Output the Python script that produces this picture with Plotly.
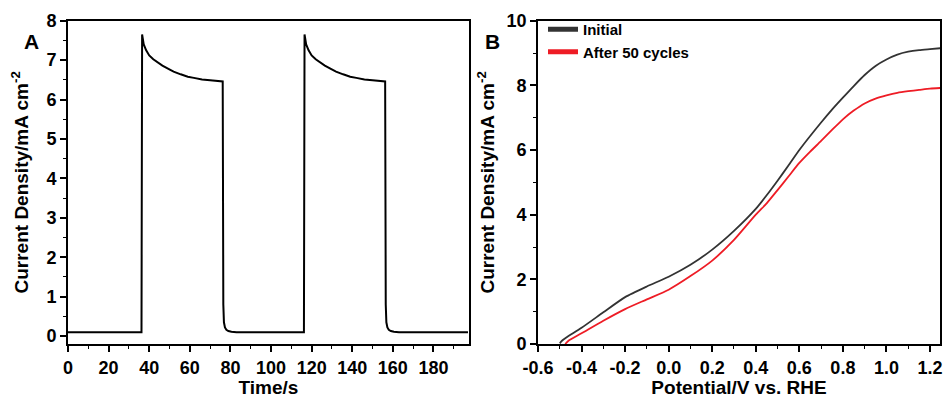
import plotly.graph_objects as go
from plotly.subplots import make_subplots

# Panel A: chronoamperometry (light on/off)
time_s = [0, 10, 20, 30, 36.2, 36.5, 36.8, 37.3, 38.5, 40, 42, 44, 46.5, 49, 52, 55.5, 59, 62, 66, 70, 73, 76.2,
          76.5, 76.8, 77.3, 78, 79, 80.5, 83, 90, 100, 110, 116.2,
          116.5, 116.8, 117.3, 118.5, 120, 122, 124, 126.5, 129, 132, 135.5, 139, 142, 146, 150, 153, 156.2,
          156.5, 156.8, 157.3, 158, 159, 160.5, 163, 170, 180, 190, 197]
current_a = [0.1, 0.1, 0.1, 0.1, 0.1, 7.65, 7.55, 7.4, 7.25, 7.12, 7.02, 6.94, 6.86, 6.79, 6.71, 6.64, 6.58, 6.55, 6.51, 6.49, 6.48, 6.46,
             0.8, 0.35, 0.22, 0.16, 0.13, 0.11, 0.1, 0.1, 0.1, 0.1, 0.1,
             7.65, 7.55, 7.4, 7.25, 7.12, 7.02, 6.94, 6.86, 6.79, 6.71, 6.64, 6.58, 6.55, 6.51, 6.49, 6.48, 6.46,
             0.8, 0.35, 0.22, 0.16, 0.13, 0.11, 0.1, 0.1, 0.1, 0.1, 0.1]

# Panel B: LSV curves
pot_initial = [-0.5, -0.49, -0.47, -0.4, -0.3, -0.2, -0.1, 0.0, 0.1, 0.2, 0.3, 0.4, 0.45, 0.5, 0.55, 0.6, 0.7, 0.75, 0.8,
               0.85, 0.9, 0.95, 1.0, 1.05, 1.1, 1.15, 1.2, 1.25]
cur_initial = [0.02, 0.1, 0.2, 0.5, 0.98, 1.45, 1.78, 2.08, 2.45, 2.92, 3.5, 4.18, 4.6, 5.05, 5.52, 6.0, 6.85, 7.25, 7.62,
               7.98, 8.32, 8.6, 8.8, 8.95, 9.04, 9.09, 9.12, 9.15]
pot_after = [-0.475, -0.46, -0.4, -0.3, -0.2, -0.1, 0.0, 0.1, 0.2, 0.3, 0.4, 0.45, 0.5, 0.55, 0.6, 0.65, 0.7, 0.75, 0.8,
             0.85, 0.9, 0.95, 1.0, 1.05, 1.1, 1.15, 1.2, 1.25]
cur_after = [0.0, 0.1, 0.33, 0.72, 1.08, 1.38, 1.68, 2.1, 2.58, 3.22, 4.0, 4.35, 4.76, 5.18, 5.6, 5.95, 6.28, 6.62, 6.95,
             7.22, 7.44, 7.59, 7.69, 7.77, 7.82, 7.86, 7.9, 7.92]

pot_ticks = [-0.6, -0.4, -0.2, 0.0, 0.2, 0.4, 0.6, 0.8, 1.0, 1.2]
pot_tick_labels = ["-0.6", "-0.4", "-0.2", "0.0", "0.2", "0.4", "0.6", "0.8", "1.0", "1.2"]

fig = make_subplots(rows=1, cols=2)

fig.add_trace(go.Scatter(x=time_s, y=current_a, mode="lines", line=dict(color="black", width=2),
                         showlegend=False), row=1, col=1)
fig.add_trace(go.Scatter(x=pot_initial, y=cur_initial, mode="lines", name="<b>Initial</b>",
                         legendgroup="g1", line=dict(color="#333333", width=1.8, shape="spline", smoothing=0.6)),
              row=1, col=2)
fig.add_trace(go.Scatter(x=pot_after, y=cur_after, mode="lines", name="<b>After 50 cycles</b>",
                         legendgroup="g2", line=dict(color="#ee1c25", width=1.8, shape="spline", smoothing=0.6)),
              row=1, col=2)

W, H = 944, 398
def fx(px): return px / W
def fy(py): return 1 - py / H

font = "Liberation Sans, Arial, sans-serif"
axis_common = dict(showline=True, linecolor="black", linewidth=1.8, mirror=True, ticks="outside",
                   ticklen=6, tickwidth=1.5, tickcolor="black", showgrid=False, zeroline=False,
                   automargin=False,
                   tickfont=dict(family=font, size=18, color="black", weight="bold"),
                   title_font=dict(family=font, size=19, color="black", weight="bold"))

fig.update_xaxes(axis_common, row=1, col=1, range=[0, 197.5], dtick=20, tick0=0,
                 minor=dict(ticks="outside", ticklen=3, tickwidth=1.2, dtick=10, tickcolor="black"),
                 title_text="Time/s", title_standoff=6, domain=[fx(68), fx(469)])
fig.update_yaxes(axis_common, row=1, col=1, range=[-0.2, 8], dtick=1, tick0=0,
                 minor=dict(ticks="outside", ticklen=3, tickwidth=1.2, dtick=0.5, tickcolor="black"),
                 title_text="Current Density/mA cm<sup>-2</sup>", title_standoff=13,
                 domain=[fy(344), fy(20.7)])
fig.update_xaxes(axis_common, row=1, col=2, range=[-0.6, 1.246], tickvals=pot_ticks, ticktext=pot_tick_labels,
                 minor=dict(ticks="outside", ticklen=3, tickwidth=1.2, dtick=0.1, tickcolor="black"),
                 title_text="Potential/V vs. RHE", title_standoff=6, domain=[fx(538), fx(940)])
fig.update_yaxes(axis_common, row=1, col=2, range=[0, 10], dtick=2, tick0=0,
                 minor=dict(ticks="outside", ticklen=3, tickwidth=1.2, dtick=1, tickcolor="black"),
                 title_text="Current Density/mA cm<sup>-2</sup>", title_standoff=7,
                 domain=[fy(344), fy(20.7)])

fig.update_layout(
    width=W, height=H, margin=dict(l=0, r=0, t=0, b=0),
    paper_bgcolor="white", plot_bgcolor="white",
    font=dict(family=font, color="black"),
    showlegend=True,
    legend=dict(x=fx(543), y=fy(13), xanchor="left", yanchor="top", bgcolor="rgba(0,0,0,0)",
                font=dict(family=font, size=15, color="black"), itemwidth=30, tracegroupgap=0,
                itemsizing="constant"),
    annotations=[
        dict(text="<b>A</b>", x=fx(22), y=fy(28), xref="paper", yref="paper", showarrow=False,
             font=dict(family=font, size=21, color="black")),
        dict(text="<b>B</b>", x=fx(492), y=fy(28), xref="paper", yref="paper", showarrow=False,
             font=dict(family=font, size=21, color="black")),
    ],
)

fig.write_html("out.html", config={"displayModeBar": False},
               post_script="document.body.style.margin='0';document.body.style.overflow='hidden';")
